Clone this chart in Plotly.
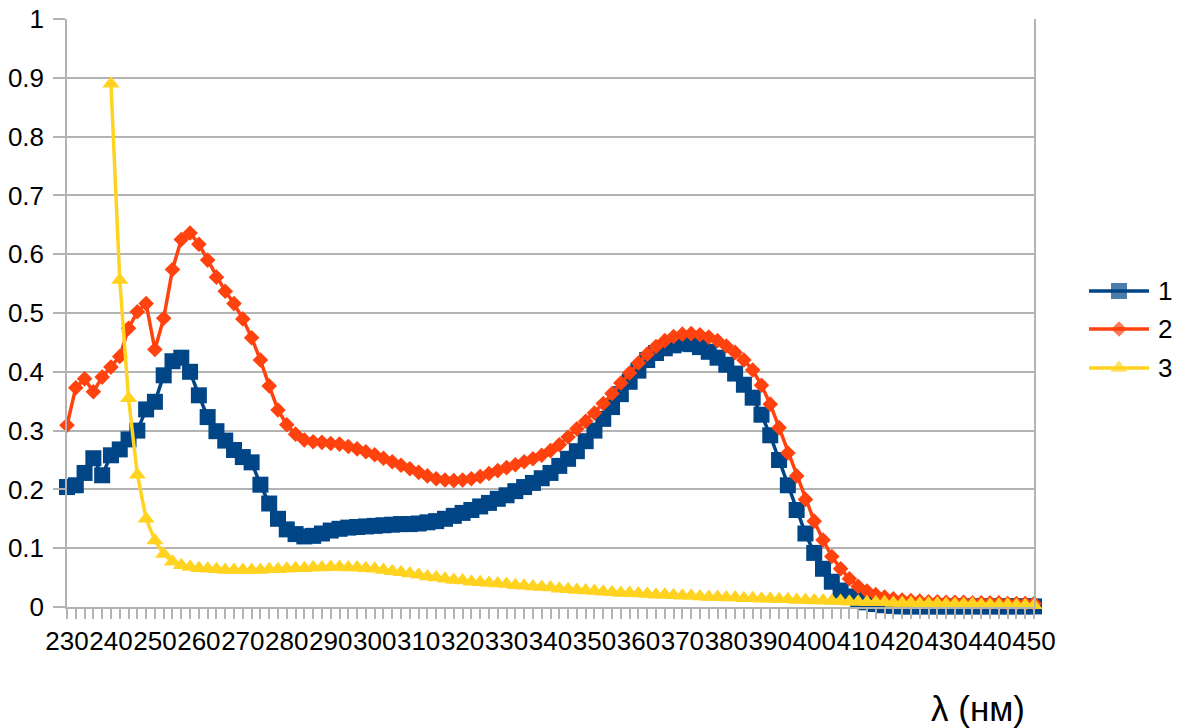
import plotly.graph_objects as go

# Wavelength categories (nm)
wavelength = list(range(230, 452, 2))

tick_values = list(range(230, 451, 10))
tick_labels = [str(v) for v in tick_values]

series1 = [
    0.204, 0.207, 0.228, 0.253, 0.224, 0.258, 0.268, 0.285, 0.300, 0.336,
    0.349, 0.394, 0.418, 0.424, 0.400, 0.360, 0.323, 0.299, 0.283, 0.267,
    0.255, 0.246, 0.208, 0.176, 0.150, 0.132, 0.124, 0.120, 0.121, 0.125,
    0.130, 0.133, 0.135, 0.136, 0.137, 0.138, 0.139, 0.140, 0.141, 0.141,
    0.142, 0.144, 0.146, 0.150, 0.155, 0.160, 0.165, 0.171, 0.177, 0.184,
    0.190, 0.197, 0.204, 0.211, 0.219, 0.228, 0.240, 0.252, 0.265, 0.282,
    0.300, 0.320, 0.340, 0.362, 0.383, 0.402, 0.420, 0.432, 0.440, 0.445,
    0.448, 0.447, 0.442, 0.434, 0.424, 0.412, 0.397, 0.378, 0.356, 0.327,
    0.292, 0.250, 0.207, 0.165, 0.125, 0.092, 0.065, 0.043, 0.028, 0.018,
    0.012, 0.008, 0.005, 0.003, 0.002,
    0.001, 0.001, 0.001, 0.001, 0.001, 0.001, 0.001, 0.001,
    0.001, 0.001, 0.001, 0.001, 0.001, 0.001, 0.001, 0.001,
]

series2 = [
    0.309, 0.373, 0.388, 0.366, 0.391, 0.408, 0.426, 0.474, 0.502, 0.516,
    0.438, 0.491, 0.574, 0.625, 0.636, 0.617, 0.590, 0.561, 0.537, 0.516,
    0.490, 0.458, 0.420, 0.376, 0.335, 0.310, 0.294, 0.284, 0.281, 0.280,
    0.278, 0.277, 0.273, 0.269, 0.264, 0.259, 0.253, 0.247, 0.241, 0.235,
    0.229, 0.223, 0.218, 0.216, 0.215, 0.216, 0.218, 0.222, 0.227, 0.232,
    0.237, 0.242, 0.247, 0.252, 0.258, 0.266, 0.276, 0.289, 0.303, 0.316,
    0.330, 0.346, 0.363, 0.381, 0.398, 0.415, 0.430, 0.443, 0.453, 0.460,
    0.464, 0.465, 0.463, 0.459, 0.453, 0.444, 0.433, 0.420, 0.403, 0.377,
    0.345, 0.305, 0.262, 0.223, 0.183, 0.146, 0.114, 0.086, 0.065, 0.048,
    0.035, 0.027, 0.021, 0.017, 0.014, 0.012, 0.011, 0.010, 0.009, 0.009,
    0.008, 0.008, 0.008, 0.007, 0.007, 0.007, 0.007, 0.006, 0.006, 0.006,
    0.006,
]

series3 = [
    None, None, None, None, None,
    0.890, 0.556, 0.355, 0.225, 0.150, 0.113, 0.090, 0.077, 0.071, 0.068,
    0.066, 0.065, 0.064, 0.063, 0.063, 0.063, 0.063, 0.063, 0.064, 0.064,
    0.065, 0.066, 0.066, 0.067, 0.067, 0.068, 0.068, 0.067, 0.067, 0.066,
    0.065, 0.063, 0.061, 0.059, 0.057, 0.055, 0.052, 0.050, 0.048, 0.046,
    0.045, 0.043, 0.042, 0.041, 0.040, 0.039, 0.037, 0.036, 0.035, 0.034,
    0.033, 0.031, 0.030, 0.029, 0.028, 0.027, 0.026, 0.025, 0.024, 0.024,
    0.023, 0.022, 0.021, 0.021, 0.020, 0.019, 0.019, 0.018, 0.017, 0.017,
    0.016, 0.016, 0.015, 0.015, 0.014, 0.014, 0.013, 0.013, 0.012, 0.012,
    0.011, 0.011, 0.010, 0.010, 0.009, 0.009, 0.008, 0.008, 0.008, 0.007,
    0.007, 0.007, 0.006, 0.006, 0.006, 0.005, 0.005, 0.005, 0.005, 0.004,
    0.004, 0.004, 0.004, 0.003, 0.003, 0.003,
]

series_names = ["1", "2", "3"]
colors = ["#004586", "#ff420e", "#ffd320"]
symbols = ["square", "diamond", "triangle-up"]
marker_sizes = [16, 12, 15]

FONT = "Liberation Sans, Arial, sans-serif"
GRID = "#b3b3b3"
W, H = 1178, 728

# plot-area pixel box (figure coordinates)
PL, PR, PT, PB = 67, 1034, 19, 607

fig = go.Figure()
for name, ys, col, sym, ms in zip(series_names, [series1, series2, series3], colors, symbols, marker_sizes):
    fig.add_trace(go.Scatter(
        x=wavelength, y=ys, name=name, mode="lines+markers",
        line=dict(color=col, width=3.5),
        marker=dict(color=col, symbol=sym, size=ms, line=dict(width=0)),
        cliponaxis=False, connectgaps=False, showlegend=False,
        xaxis="x", yaxis="y",
    ))

# custom legend (keys drawn in a pixel-scaled helper subplot)
LEG_X0 = 1060
leg_rows = [291, 329, 368]
annotations = []
for name, col, sym, ms, ry in zip(series_names, colors, symbols, marker_sizes, leg_rows):
    fig.add_trace(go.Scatter(
        x=[1089, 1119, 1149], y=[ry, ry, ry], mode="lines+markers",
        line=dict(color=col, width=3.5),
        marker=dict(color=col, symbol=sym, size=[0, ms, 0], line=dict(width=0)),
        cliponaxis=False, showlegend=False, hoverinfo="skip",
        xaxis="x2", yaxis="y2",
    ))
    annotations.append(dict(
        text=name, xref="x2", yref="y2", x=1156, y=ry,
        xanchor="left", yanchor="middle", showarrow=False,
        font=dict(family=FONT, size=26, color="#000000"),
    ))

annotations.append(dict(
    text="λ (нм)", xref="paper", yref="paper", x=978 / W, y=1 - 708 / H,
    xanchor="center", yanchor="middle", showarrow=False,
    font=dict(family=FONT, size=35, color="#000000"),
))

fig.update_layout(
    width=W, height=H,
    margin=dict(l=0, r=0, t=0, b=0, autoexpand=False),
    paper_bgcolor="white", plot_bgcolor="rgba(0,0,0,0)",
    font=dict(family=FONT, size=26, color="#000000"),
    showlegend=False,
    xaxis=dict(
        domain=[PL / W, PR / W], anchor="y", automargin=False,
        range=[230, 450], tickmode="array", tickvals=tick_values, ticktext=tick_labels,
        tickangle=0, ticks="outside", ticklen=10, tickcolor=GRID, tickwidth=1.5,
        minor=dict(dtick=2, tick0=230, ticks="outside", ticklen=10, tickcolor=GRID, tickwidth=1.5, showgrid=False),
        showgrid=False, zeroline=False, showline=True, linecolor=GRID, linewidth=1.5,
        ticklabeloverflow="allow",
        tickfont=dict(family=FONT, size=26, color="#000000"),
    ),
    yaxis=dict(
        domain=[1 - PB / H, 1 - PT / H], anchor="x", automargin=False,
        range=[0, 1], dtick=0.1, tick0=0, ticks="outside", ticklen=12, tickcolor=GRID, tickwidth=1.5,
        ticklabelstandoff=4, ticklabeloverflow="allow",
        showgrid=True, gridcolor=GRID, gridwidth=1.5, zeroline=False,
        showline=True, linecolor=GRID, linewidth=1.5, mirror=True,
        tickfont=dict(family=FONT, size=26, color="#000000"),
    ),
    xaxis2=dict(domain=[LEG_X0 / W, 1], anchor="y2", range=[LEG_X0, W], visible=False, fixedrange=True),
    yaxis2=dict(domain=[0, 1], anchor="x2", range=[H, 0], visible=False, fixedrange=True),
    annotations=annotations,
)

fig.write_html(
    "out.html",
    config={"displayModeBar": False},
    post_script="document.body.style.margin='0';",
)
